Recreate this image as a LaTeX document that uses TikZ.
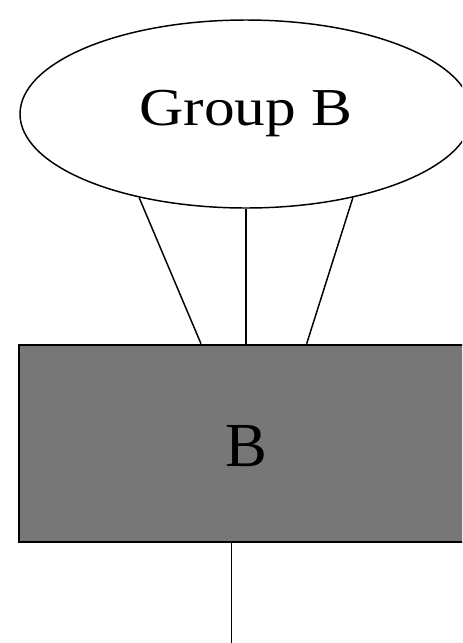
\documentclass[tikz,border=0pt]{standalone}
\usepackage{fontspec}
\setmainfont{Liberation Serif}
\newfontfamily\groupfont[FakeStretch=1.15]{Liberation Serif}
\usepackage{tikz}
\usetikzlibrary{positioning, shapes.geometric}

\definecolor{boxgray}{HTML}{777777}

\begin{document}
\begin{tikzpicture}[
  group/.style={ellipse, draw, line width=1.1pt, minimum width=339pt, minimum height=141pt, inner sep=0pt, font=\groupfont\fontsize{40}{48}\selectfont},
  member/.style={rectangle, draw, line width=1.6pt, fill=boxgray, minimum width=340pt, minimum height=147.75pt, text height=35pt, inner sep=0pt, font=\fontsize{47}{56}\selectfont},
  link/.style={line width=1.1pt}
]
  % page frame, the right side is cut off
  \useasboundingbox (0,0) rectangle (346.5pt,-482.25pt);
  \clip (0,0) rectangle (346.5pt,-482.25pt);

  % group on top, its member below
  \node[group] (groupB) at (184.5pt,-85.5pt) {Group B};
  \node[member, below=101.25pt of groupB] (blockB) {B};

  \draw[link] (groupB.218) -- ([xshift=-33.75pt]blockB.north);
  \draw[link] (groupB.south) -- (blockB.north);
  \draw[link] (groupB.322) -- ([xshift=45.5pt]blockB.north);

  % line leaving the box downwards
  \coordinate (tail) at ([xshift=-10.9pt]blockB.south);
  \coordinate[below=80pt of tail] (tailend);
  \draw[link] (tail) -- (tailend);
\end{tikzpicture}
\end{document}
